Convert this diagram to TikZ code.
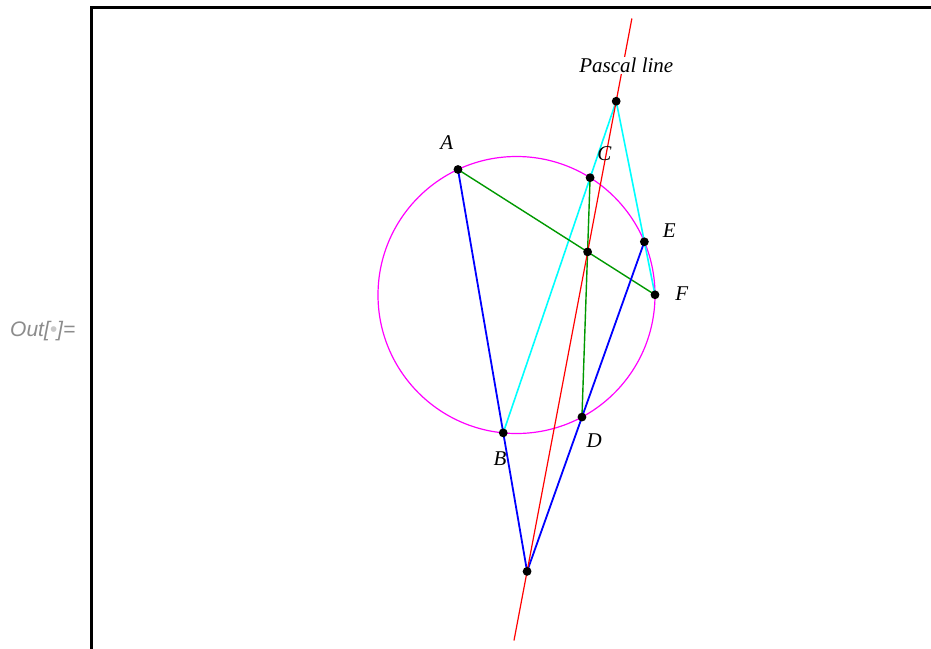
\documentclass[tikz,border=0pt]{standalone}
\usepackage{fontspec}
\setmainfont{Liberation Serif}
\newfontfamily\outfont{Liberation Sans}
\usetikzlibrary{calc}
\definecolor{mgreen}{RGB}{0,153,0}
\definecolor{mcyan}{RGB}{0,255,255}
\definecolor{mmagenta}{RGB}{255,0,255}
\definecolor{mblue}{RGB}{0,0,255}
\definecolor{mred}{RGB}{255,0,0}
\definecolor{outgray}{RGB}{140,140,140}
\definecolor{dotgray}{RGB}{200,200,200}
\begin{document}
\begin{tikzpicture}[x=1pt,y=-1pt,
  pt/.style={circle,fill=black,inner sep=0pt,minimum size=8.8pt},
  lbl/.style={font=\fontsize{21}{25}\selectfont\itshape,inner sep=0pt},
  hexside/.style={line width=1.4pt},
  blueside/.style={line width=1.8pt,mblue},
  frameline/.style={line width=3pt,black}]
\useasboundingbox (0,0) rectangle (931,648);
\clip (0,0) rectangle (931,648);
\fill[white] (0,0) rectangle (931,648);
% frame
\coordinate (fbl) at (91,670);
\coordinate (ftl) at (91,7.3);
\coordinate (ftr) at (950,7.3);
\draw[frameline] (fbl) -- (ftl) -- (ftr);
% circle and points
\coordinate (O) at (516.5,295);
\def\R{138.5}
\draw[mmagenta,line width=1.2pt] (O) circle[radius=\R];
\coordinate (A) at ($(O)+(-115:\R)$);
\coordinate (C) at ($(O)+(-57.9:\R)$);
\coordinate (E) at ($(O)+(-22.6:\R)$);
\coordinate (F) at ($(O)+(-0.1:\R)$);
\coordinate (D) at ($(O)+(61.8:\R)$);
\coordinate (B) at ($(O)+(95.5:\R)$);
\coordinate (X) at (intersection of A--B and D--E);
\coordinate (Y) at (intersection of B--C and E--F);
\coordinate (Z) at (intersection of C--D and F--A);
% hexagon sides
\draw[mcyan,line width=1.6pt] (B) -- (Y) -- (F);
\draw[mgreen,hexside] (A) -- (F);
\draw[mgreen,hexside] (C) -- (D);
\draw[blueside] (A) -- (X) -- (E);
% Pascal line
\coordinate (Rt) at ($(X)!1.176!(Y)$);
\coordinate (Rb) at ($(X)!-0.147!(Y)$);
\draw[mred,line width=1.2pt] (Rb) -- (Rt);
\node[lbl,fill=white,inner sep=1.5pt,anchor=base] (pl) at (626.3,72.7) {Pascal line};
% dots
\foreach \p in {A,B,C,D,E,F,X,Y,Z} \node[pt] (d\p) at (\p) {};
% labels
\node[lbl] (lA) at (446.7,143) {A};
\node[lbl] (lB) at (500,458.3) {B};
\node[lbl] (lC) at (604.3,154) {C};
\node[lbl] (lD) at (594.3,440.7) {D};
\node[lbl] (lE) at (669.3,230.7) {E};
\node[lbl] (lF) at (681.7,294) {F};
% output label
\node[anchor=base west,inner sep=0pt,text=outgray,font=\outfont\itshape\fontsize{21}{25}\selectfont] (out) at (10,336) {Out[{\color{dotgray}•}]=};
\end{tikzpicture}
\end{document}
